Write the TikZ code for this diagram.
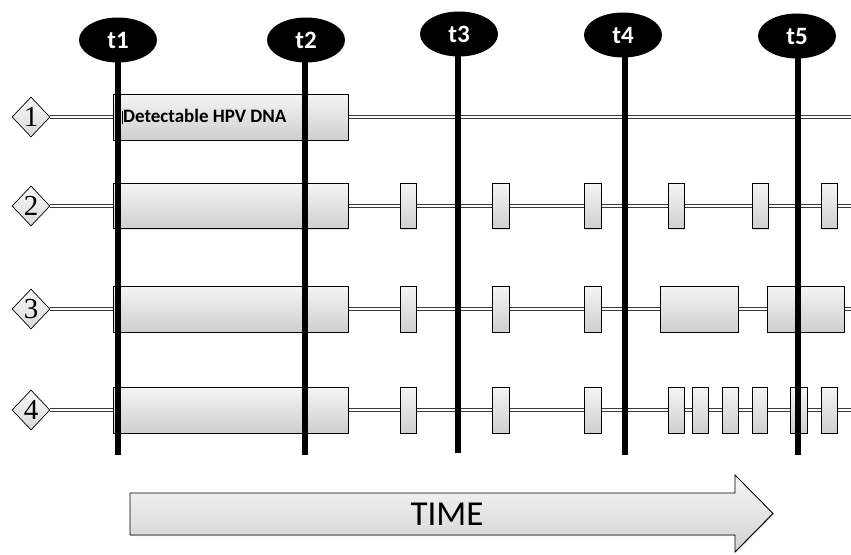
\documentclass[tikz,border=0pt]{standalone}
\usepackage{fontspec}
\setmainfont{Carlito}
\newfontfamily\numfont{Liberation Serif}
\usetikzlibrary{shapes.geometric,shadows,backgrounds}
\tikzset{
  seg/.style={draw=black, line width=0.9pt, top color=gray!8, bottom color=gray!38,
    minimum height=46, inner sep=0pt,
    drop shadow={shadow xshift=1pt, shadow yshift=-1.2pt, opacity=0.25}},
  rowtag/.style={diamond, draw=black, line width=0.7pt, top color=gray!5, bottom color=gray!30,
    minimum width=38, minimum height=40, inner sep=0pt, font=\numfont\fontsize{29}{29}\selectfont},
  conn/.style={draw=gray!45!black, double=white, double distance=2pt, line width=1pt},
  tmark/.style={ellipse, fill=black, text=white, minimum width=78, minimum height=45, inner sep=0pt,
    font=\bfseries\fontsize{25}{25}\selectfont},
  tline/.style={line width=6pt, black},
  timearrow/.style={draw=black, line width=0.9pt, top color=gray!6, bottom color=gray!35}
}
\begin{document}
\begin{tikzpicture}[x=1pt,y=-1pt]
\useasboundingbox (0,0) rectangle (851,554);

% row tags
\node[rowtag] (d1) at (31,117) {1};
\node[rowtag] (d2) at (31,206) {2};
\node[rowtag] (d3) at (31,309) {3};
\node[rowtag] (d4) at (31,410) {4};

% right ends
\coordinate (e1) at (851,117);
\coordinate (e2) at (851,206);
\coordinate (e3) at (851,309);
\coordinate (e4) at (851,410);

% big boxes
\node[seg, minimum width=235] (b1) at (230.5,117) {};
\node[anchor=west, font=\bfseries\fontsize{19}{19}\selectfont, inner sep=0pt] (lab) at (122,117)
  {\rule[-1.5pt]{0.9pt}{13pt}Detectable HPV DNA};
\node[seg, minimum width=235, minimum height=45] (b2) at (230.5,206) {};
\node[seg, minimum width=235] (b3) at (230.5,309) {};
\node[seg, minimum width=235] (b4) at (230.5,410) {};

% row 2 segments
\foreach \a/\b [count=\i] in {400/416,492/509,584/601,668/684,752/768,821/837}
  \node[seg, minimum width={\b-\a}, minimum height=45] (s2-\i) at ({(\a+\b)/2},206) {};
% row 3 segments
\foreach \a/\b [count=\i] in {400/416,492/509,584/601,660/738,767/844}
  \node[seg, minimum width={\b-\a}] (s3-\i) at ({(\a+\b)/2},309) {};
% row 4 segments
\foreach \a/\b [count=\i] in {400/416,492/509,584/601,668/684,692/708,722/738,752/767,790/807,821/837}
  \node[seg, minimum width={\b-\a}] (s4-\i) at ({(\a+\b)/2},410) {};

% connectors (behind boxes)
\begin{scope}[on background layer]
  \draw[conn] (d1.east) -- (b1.west);
  \draw[conn] (b1.east) -- (e1);
  \draw[conn] (d2.east) -- (b2.west);
  \draw[conn] (b2.east) -- (e2);
  \draw[conn] (d3.east) -- (b3.west);
  \draw[conn] (b3.east) -- (e3);
  \draw[conn] (d4.east) -- (b4.west);
  \draw[conn] (b4.east) -- (e4);
\end{scope}

% time markers
\coordinate (t1b) at (118,455);
\coordinate (t2b) at (305,455);
\coordinate (t3b) at (458,453);
\coordinate (t4b) at (625,455);
\coordinate (t5b) at (798,455);
\coordinate (t1c) at (118,40);
\coordinate (t2c) at (306,40);
\coordinate (t3c) at (459,34);
\coordinate (t4c) at (623,35);
\coordinate (t5c) at (797,36);
\draw[tline] (118,40) -- (t1b);
\draw[tline] (305,40) -- (t2b);
\draw[tline] (458,34) -- (t3b);
\draw[tline] (625,35) -- (t4b);
\draw[tline] (798,36) -- (t5b);
\node[tmark] (t1) at (t1c) {t1};
\node[tmark] (t2) at (t2c) {t2};
\node[tmark] (t3) at (t3c) {t3};
\node[tmark] (t4) at (t4c) {t4};
\node[tmark] (t5) at (t5c) {t5};

% time arrow
\draw[timearrow, drop shadow={shadow xshift=1pt, shadow yshift=-1.2pt, opacity=0.25}]
  (130,493) -- (735,493) -- (735,475) -- (773,513.5) -- (735,552) -- (735,535) -- (130,535) -- cycle;
\node[font=\fontsize{35}{35}\selectfont, inner sep=0pt] (time) at (447,514) {TIME};
\end{tikzpicture}
\end{document}
